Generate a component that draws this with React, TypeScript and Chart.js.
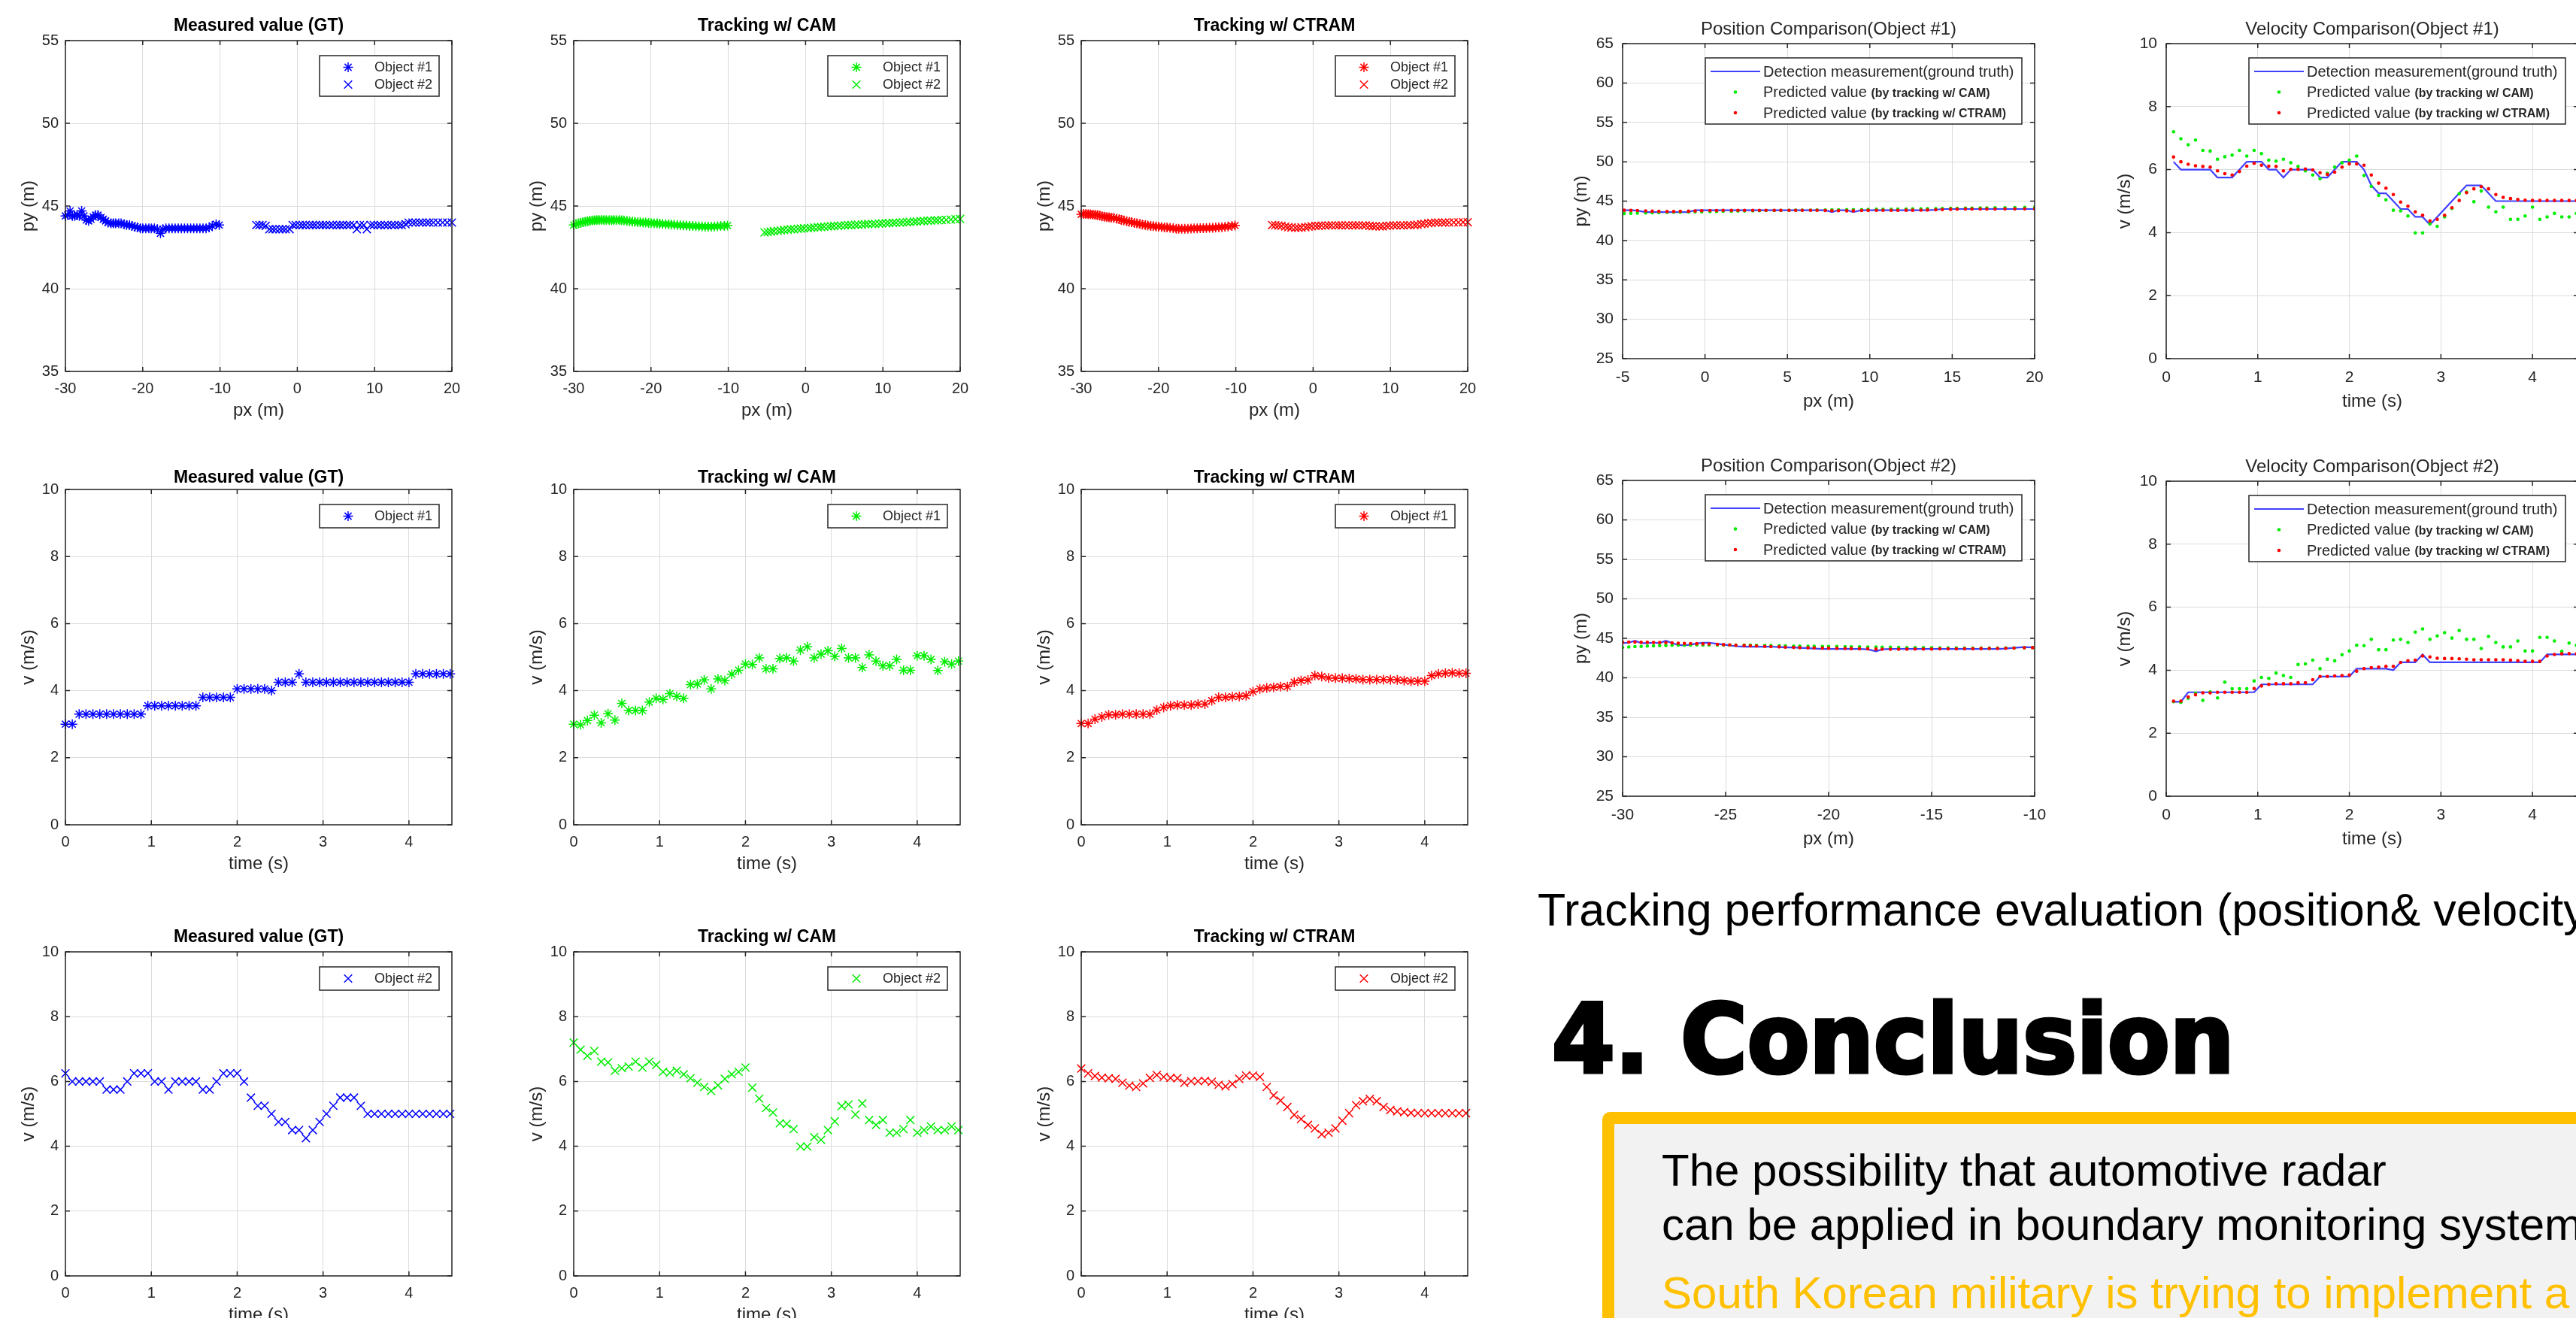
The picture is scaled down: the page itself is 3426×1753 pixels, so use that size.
import React, { useEffect, useRef } from 'react';
import { Chart, registerables } from 'chart.js';

Chart.register(...registerables);

const FONT = '"Liberation Sans", Arial, Helvetica, sans-serif';
const INK = '#262626';
const GRID = '#dcdcdc';
const C_GT = '#0000ff';
const C_CAM = '#00ee00';
const C_CTRAM = '#ff0000';
const C_GT_LINE = '#4040ff';

// ---------- sample times (s) ----------
const TIME = [0, 0.08, 0.16, 0.24, 0.32, 0.40, 0.48, 0.56, 0.64, 0.72, 0.80, 0.88, 0.96, 1.04, 1.12, 1.20, 1.28, 1.36, 1.44, 1.52,
  1.60, 1.68, 1.76, 1.84, 1.92, 2.00, 2.08, 2.16, 2.24, 2.32, 2.40, 2.48, 2.56, 2.64, 2.72, 2.80, 2.88, 2.96, 3.04, 3.12,
  3.20, 3.28, 3.36, 3.44, 3.52, 3.60, 3.68, 3.76, 3.84, 3.92, 4.00, 4.08, 4.16, 4.24, 4.32, 4.40, 4.48, 4.56];

// ---------- object #1 position ----------
const PX1 = [-30.0, -29.7, -29.4, -29.1, -28.8, -28.5, -28.2, -27.9, -27.6, -27.3,
  -27.0, -26.7, -26.4, -26.1, -25.8, -25.4, -25.1, -24.8, -24.5, -24.1,
  -23.8, -23.5, -23.1, -22.8, -22.4, -22.1, -21.7, -21.4, -21.0, -20.7,
  -20.3, -20.0, -19.6, -19.2, -18.9, -18.5, -18.1, -17.7, -17.4, -17.0,
  -16.6, -16.2, -15.8, -15.4, -15.0, -14.6, -14.2, -13.8, -13.4, -13.0,
  -12.6, -12.2, -11.8, -11.4, -11.0, -10.5, -10.1];
const PY1_GT = [44.4, 44.45, 44.7, 44.4, 44.4, 44.45, 44.4, 44.7, 44.4, 44.15,
  44.1, 44.2, 44.35, 44.45, 44.45, 44.3, 44.2, 44.1, 44.0, 43.95,
  43.95, 43.95, 43.95, 43.95, 43.9, 43.85, 43.85, 43.8, 43.75, 43.7,
  43.65, 43.65, 43.65, 43.65, 43.65, 43.65, 43.6, 43.35, 43.6, 43.65,
  43.65, 43.65, 43.65, 43.65, 43.65, 43.65, 43.65, 43.65, 43.65, 43.65,
  43.65, 43.65, 43.65, 43.7, 43.8, 43.9, 43.85];
const PY1_CAM = [43.85, 43.9, 43.95, 43.98, 44.02, 44.05, 44.08, 44.1, 44.12, 44.14,
  44.15, 44.15, 44.16, 44.15, 44.15, 44.15, 44.14, 44.15, 44.15, 44.15,
  44.14, 44.12, 44.1, 44.08, 44.06, 44.04, 44.02, 44.02, 44.0, 44.0,
  43.98, 43.97, 43.96, 43.95, 43.93, 43.92, 43.9, 43.9, 43.88, 43.87,
  43.85, 43.84, 43.83, 43.82, 43.8, 43.79, 43.78, 43.77, 43.76, 43.75,
  43.75, 43.75, 43.76, 43.77, 43.79, 43.8, 43.82];
const PY1_CTRAM = [44.5, 44.52, 44.52, 44.5, 44.5, 44.48, 44.47, 44.45, 44.42, 44.38,
  44.35, 44.33, 44.32, 44.3, 44.28, 44.24, 44.2, 44.16, 44.12, 44.08,
  44.05, 44.02, 43.98, 43.95, 43.92, 43.88, 43.85, 43.82, 43.8, 43.78,
  43.76, 43.75, 43.73, 43.71, 43.7, 43.68, 43.66, 43.63, 43.62, 43.62,
  43.62, 43.63, 43.64, 43.65, 43.65, 43.66, 43.66, 43.67, 43.68, 43.68,
  43.7, 43.71, 43.72, 43.74, 43.76, 43.8, 43.82];

// ---------- object #2 position ----------
const PX2 = [-5.3, -4.9, -4.5, -4.1, -3.6, -3.2, -2.8, -2.3, -1.9, -1.5,
  -1.0, -0.6, -0.2, 0.3, 0.7, 1.1, 1.6, 2.0, 2.4, 2.9,
  3.3, 3.7, 4.2, 4.6, 5.1, 5.5, 5.9, 6.4, 6.8, 7.3,
  7.7, 8.1, 8.6, 9.0, 9.5, 9.9, 10.4, 10.8, 11.3, 11.7,
  12.2, 12.6, 13.1, 13.5, 14.0, 14.4, 14.9, 15.3, 15.8, 16.2,
  16.7, 17.1, 17.6, 18.2, 18.8, 19.4, 20.0];
const PY2_GT = [43.85, 43.85, 43.85, 43.8, 43.6, 43.6, 43.6, 43.6, 43.6, 43.6,
  43.6, 43.85, 43.85, 43.85, 43.85, 43.85, 43.85, 43.85, 43.85, 43.85,
  43.85, 43.85, 43.85, 43.85, 43.85, 43.85, 43.85, 43.85, 43.85, 43.85,
  43.6, 43.85, 43.85, 43.6, 43.85, 43.85, 43.85, 43.85, 43.85, 43.85,
  43.85, 43.85, 43.85, 43.85, 43.9, 44.0, 44.0, 44.0, 44.0, 44.0,
  44.0, 44.0, 44.0, 44.0, 44.0, 44.0, 44.0];
const PY2_CAM = [43.4, 43.42, 43.45, 43.48, 43.5, 43.52, 43.55, 43.57, 43.6, 43.6,
  43.62, 43.63, 43.65, 43.66, 43.68, 43.7, 43.72, 43.73, 43.75, 43.76,
  43.78, 43.8, 43.8, 43.82, 43.83, 43.85, 43.85, 43.86, 43.87, 43.88,
  43.9, 43.9, 43.91, 43.92, 43.93, 43.95, 43.96, 43.97, 43.98, 43.99,
  44.0, 44.01, 44.02, 44.04, 44.05, 44.06, 44.08, 44.1, 44.11, 44.12,
  44.13, 44.14, 44.15, 44.16, 44.18, 44.2, 44.22];
const PY2_CTRAM = [43.85, 43.84, 43.82, 43.8, 43.76, 43.72, 43.7, 43.68, 43.68, 43.7,
  43.72, 43.75, 43.78, 43.8, 43.8, 43.82, 43.82, 43.83, 43.83, 43.83,
  43.83, 43.83, 43.83, 43.83, 43.83, 43.83, 43.83, 43.83, 43.83, 43.8,
  43.78, 43.78, 43.77, 43.77, 43.8, 43.82, 43.83, 43.83, 43.83, 43.83,
  43.84, 43.84, 43.85, 43.87, 43.9, 43.93, 43.96, 43.98, 44.0, 44.0,
  44.0, 44.0, 44.0, 44.01, 44.01, 44.02, 44.02];

// ---------- velocities (m/s) ----------
const V1_GT = [3.0, 3.0, 3.3, 3.3, 3.3, 3.3, 3.3, 3.3, 3.3, 3.3, 3.3, 3.3,
  3.55, 3.55, 3.55, 3.55, 3.55, 3.55, 3.55, 3.55,
  3.8, 3.8, 3.8, 3.8, 3.8,
  4.05, 4.05, 4.05, 4.05, 4.05, 4.0,
  4.25, 4.25, 4.25, 4.5,
  4.25, 4.25, 4.25, 4.25, 4.25, 4.25, 4.25, 4.25, 4.25, 4.25, 4.25, 4.25, 4.25, 4.25, 4.25, 4.25,
  4.5, 4.5, 4.5, 4.5, 4.5, 4.5];
const V1_CAM = [3.0, 2.98, 3.11, 3.27, 3.04, 3.31, 3.12, 3.62, 3.41, 3.41,
  3.41, 3.66, 3.77, 3.74, 3.91, 3.83, 3.77, 4.18, 4.2, 4.32,
  4.05, 4.35, 4.3, 4.49, 4.61, 4.79, 4.78, 4.98, 4.65, 4.65,
  4.96, 4.98, 4.88, 5.21, 5.31, 4.98, 5.09, 5.19, 5.02, 5.26,
  4.98, 4.98, 4.69, 5.07, 4.88, 4.74, 4.74, 4.93, 4.61, 4.61,
  5.04, 5.04, 4.93, 4.6, 4.86, 4.79, 4.88];
const V1_CTRAM = [3.02, 3.02, 3.15, 3.22, 3.28, 3.28, 3.3, 3.3, 3.3, 3.3,
  3.3, 3.42, 3.5, 3.55, 3.57, 3.57, 3.57, 3.6, 3.6, 3.7,
  3.8, 3.8, 3.82, 3.83, 3.85, 3.97, 4.05, 4.08, 4.1, 4.12,
  4.12, 4.25, 4.3, 4.32, 4.45, 4.42, 4.38, 4.37, 4.37, 4.36,
  4.35, 4.33, 4.33, 4.33, 4.33, 4.33, 4.32, 4.3, 4.28, 4.28,
  4.28, 4.45, 4.5, 4.52, 4.53, 4.52, 4.52];
const V2_GT = [6.25, 6.0, 6.0, 6.0, 6.0, 6.0, 5.75, 5.75, 5.75, 6.0,
  6.25, 6.25, 6.25, 6.0, 6.0, 5.75, 6.0, 6.0, 6.0, 6.0,
  5.75, 5.75, 6.0, 6.25, 6.25, 6.25, 6.0, 5.5, 5.25, 5.25,
  5.0, 4.75, 4.75, 4.5, 4.5, 4.25, 4.5, 4.75, 5.0, 5.25,
  5.5, 5.5, 5.5, 5.25, 5.0, 5.0, 5.0, 5.0, 5.0, 5.0,
  5.0, 5.0, 5.0, 5.0, 5.0, 5.0, 5.0];
const V2_CAM = [7.2, 6.98, 6.79, 6.94, 6.61, 6.59, 6.33, 6.41, 6.46, 6.61,
  6.43, 6.61, 6.51, 6.30, 6.27, 6.33, 6.22, 6.1, 5.96, 5.83,
  5.71, 5.88, 6.08, 6.22, 6.30, 6.43, 5.81, 5.47, 5.18, 5.04,
  4.71, 4.69, 4.53, 3.99, 3.99, 4.28, 4.2, 4.5, 4.77, 5.24,
  5.29, 4.98, 5.32, 4.81, 4.66, 4.81, 4.42, 4.42, 4.53, 4.81,
  4.42, 4.50, 4.61, 4.50, 4.50, 4.61, 4.50];
const V2_CTRAM = [6.40, 6.25, 6.17, 6.12, 6.10, 6.08, 5.96, 5.87, 5.83, 5.94,
  6.11, 6.20, 6.14, 6.11, 6.10, 5.96, 6.01, 6.01, 6.02, 5.99,
  5.90, 5.85, 5.92, 6.08, 6.18, 6.18, 6.14, 5.83, 5.57, 5.41,
  5.21, 4.97, 4.84, 4.66, 4.55, 4.37, 4.42, 4.55, 4.79, 5.02,
  5.27, 5.39, 5.46, 5.39, 5.21, 5.12, 5.08, 5.05, 5.03, 5.02,
  5.02, 5.02, 5.02, 5.02, 5.02, 5.02, 5.02];

// ---------- ticks ----------
const POS_X_TICKS = [-30, -20, -10, 0, 10, 20];
const POS_Y_TICKS = [35, 40, 45, 50, 55];
const VEL_X_TICKS = [0, 1, 2, 3, 4];
const VEL_Y_TICKS = [0, 2, 4, 6, 8, 10];
const CMP1_X_TICKS = [-5, 0, 5, 10, 15, 20];
const CMP2_X_TICKS = [-30, -25, -20, -15, -10];
const CMP_Y_TICKS = [25, 30, 35, 40, 45, 50, 55, 60, 65];

// ---------- helpers ----------
const pts = (xs: number[], ys: number[]) => ys.map((y, i) => ({ x: xs[i], y }));
const tpts = (ys: number[]) => ys.map((y, i) => ({ x: TIME[i], y }));
const tptsR = (ys: number[]) => ys.map((y, i) => ({ x: TIME[i + 1], y }));

const star = (label: string, data: any[], color: string) => ({
  label, data, pointStyle: 'star', pointRadius: 6.5, borderColor: color, backgroundColor: color, borderWidth: 1.5, clip: false, showLine: false,
});
const cross = (label: string, data: any[], color: string) => ({
  label, data, pointStyle: 'crossRot', pointRadius: 7.5, borderColor: color, backgroundColor: color, borderWidth: 1.5, clip: false, showLine: false,
});
const dots = (label: string, data: any[], color: string) => ({
  label, data, pointStyle: 'circle', pointRadius: 2.3, borderWidth: 0, borderColor: color, backgroundColor: color, showLine: false,
});
const line = (label: string, data: any[], color: string) => ({
  label, data, pointRadius: 0, borderColor: color, backgroundColor: color, borderWidth: 2.2, showLine: true, fill: false,
});

function drawMarker(ctx: CanvasRenderingContext2D, kind: string, x: number, y: number, color: string) {
  ctx.save();
  ctx.strokeStyle = color; ctx.fillStyle = color; ctx.lineWidth = 1.5;
  ctx.beginPath();
  if (kind === 'star') {
    const r = 6.5, d = r * Math.SQRT1_2;
    ctx.moveTo(x - r, y); ctx.lineTo(x + r, y);
    ctx.moveTo(x, y - r); ctx.lineTo(x, y + r);
    ctx.moveTo(x - d, y - d); ctx.lineTo(x + d, y + d);
    ctx.moveTo(x - d, y + d); ctx.lineTo(x + d, y - d);
    ctx.stroke();
  } else if (kind === 'x') {
    const d = 7.5 * Math.SQRT1_2;
    ctx.moveTo(x - d, y - d); ctx.lineTo(x + d, y + d);
    ctx.moveTo(x - d, y + d); ctx.lineTo(x + d, y - d);
    ctx.stroke();
  } else if (kind === 'dot') {
    ctx.arc(x, y, 2.3, 0, Math.PI * 2); ctx.fill();
  }
  ctx.restore();
}

function drawLegend(ctx: CanvasRenderingContext2D, a: any, lg: any) {
  if (!lg) return;
  ctx.save();
  if (lg.style === 'left') {
    const w = 159, h = 8 + 23 * lg.items.length;
    const bx = a.right - 17 - w, by = a.top + 20;
    ctx.fillStyle = '#fff'; ctx.fillRect(bx, by, w, h);
    ctx.strokeStyle = INK; ctx.lineWidth = 1.5; ctx.strokeRect(bx, by, w, h);
    lg.items.forEach((it: any, i: number) => {
      const cy = by + 4 + 23 * i + 11.5;
      drawMarker(ctx, it.kind, bx + 38, cy, it.color);
      ctx.fillStyle = INK; ctx.font = `18px ${FONT}`; ctx.textAlign = 'left'; ctx.textBaseline = 'middle';
      ctx.fillText(it.text, bx + 73, cy + 1);
    });
  } else {
    const w = 421, h = 88;
    const bx = a.right - 17 - w, by = a.top + 19;
    ctx.fillStyle = '#fff'; ctx.fillRect(bx, by, w, h);
    ctx.strokeStyle = INK; ctx.lineWidth = 1.5; ctx.strokeRect(bx, by, w, h);
    lg.items.forEach((it: any, i: number) => {
      const cy = by + 18 + 27.5 * i;
      if (it.kind === 'line') {
        ctx.strokeStyle = it.color; ctx.lineWidth = 2.2;
        ctx.beginPath(); ctx.moveTo(bx + 7, cy); ctx.lineTo(bx + 73, cy); ctx.stroke();
      } else {
        drawMarker(ctx, 'dot', bx + 40, cy, it.color);
      }
      ctx.fillStyle = INK; ctx.textAlign = 'left'; ctx.textBaseline = 'middle';
      ctx.font = `20px ${FONT}`;
      ctx.fillText(it.text, bx + 77, cy + 1);
      if (it.bold) {
        const tw = ctx.measureText(it.text + ' ').width;
        ctx.font = `bold 16px ${FONT}`;
        ctx.fillText(it.bold, bx + 77 + tw, cy + 2);
      }
    });
  }
  ctx.restore();
}

const framePlugin = (s: any) => ({
  id: 'matlabFrame',
  afterDraw(chart: any) {
    const ctx: CanvasRenderingContext2D = chart.ctx;
    const a = chart.chartArea;
    const xs = chart.scales.x, ys = chart.scales.y;
    ctx.save();
    ctx.strokeStyle = INK; ctx.lineWidth = 1.5;
    ctx.beginPath();
    xs.ticks.forEach((t: any) => {
      const p = xs.getPixelForValue(t.value);
      ctx.moveTo(p, a.bottom); ctx.lineTo(p, a.bottom - 6);
      ctx.moveTo(p, a.top); ctx.lineTo(p, a.top + 6);
    });
    ys.ticks.forEach((t: any) => {
      const p = ys.getPixelForValue(t.value);
      ctx.moveTo(a.left, p); ctx.lineTo(a.left + 6, p);
      ctx.moveTo(a.right, p); ctx.lineTo(a.right - 6, p);
    });
    ctx.stroke();
    ctx.strokeRect(a.left, a.top, a.right - a.left, a.bottom - a.top);

    ctx.textAlign = 'center'; ctx.textBaseline = 'middle';
    ctx.fillStyle = s.titleColor;
    ctx.font = `${s.titleBold ? 'bold ' : ''}${s.titleSize}px ${FONT}`;
    ctx.fillText(s.title, (a.left + a.right) / 2, a.top + s.titleDy);

    ctx.fillStyle = INK;
    ctx.font = `${s.labelSize}px ${FONT}`;
    ctx.fillText(s.xLabel, (a.left + a.right) / 2, a.bottom + s.xLabelDy);
    ctx.save();
    ctx.translate(a.left - s.yLabelDx, (a.top + a.bottom) / 2);
    ctx.rotate(-Math.PI / 2);
    ctx.fillText(s.yLabel, 0, 0);
    ctx.restore();

    drawLegend(ctx, a, s.legend);
    ctx.restore();
  },
});

function buildConfig(s: any): any {
  const axis = (min: number, max: number, ticks: number[], pad: number, fit: (sc: any) => void) => ({
    type: 'linear', min, max,
    afterBuildTicks: (sc: any) => { sc.ticks = ticks.map((v) => ({ value: v })); },
    afterFit: fit,
    ticks: { font: { family: FONT, size: s.tickSize }, color: INK, padding: pad, maxRotation: 0, minRotation: 0, autoSkip: false },
    grid: { color: GRID, drawTicks: false, lineWidth: 1 },
    border: { display: false },
  });
  return {
    type: 'scatter',
    data: { datasets: s.datasets },
    options: {
      animation: false, responsive: false, maintainAspectRatio: false, devicePixelRatio: 1, events: [],
      layout: { padding: { left: 0, top: s.pad.t, right: s.pad.r, bottom: 0 } },
      plugins: { legend: { display: false }, tooltip: { enabled: false }, title: { display: false } },
      scales: {
        x: { position: 'bottom', ...axis(s.xMin, s.xMax, s.xTicks, s.xTickPad, (sc: any) => { sc.height = s.pad.b; }) },
        y: { position: 'left', ...axis(s.yMin, s.yMax, s.yTicks, s.yTickPad, (sc: any) => { sc.width = s.pad.l; }) },
      },
    },
    plugins: [framePlugin(s)],
  };
}

// ---------- layout of the 13 panels ----------
const COLS = [87, 763, 1438];
const ROWS = [54, 651, 1266];
const ROW_H = [440, 446, 431];
const TITLE_DY = [-19, -15, -19];

const leftBase = (col: number, row: number) => ({
  plot: { x: COLS[col], y: ROWS[row], w: 514, h: ROW_H[row] },
  pad: { l: 85, t: 40, r: 30, b: 75 },
  tickSize: 20, labelSize: 24, titleSize: 23, titleBold: true, titleColor: '#000',
  titleDy: TITLE_DY[row], xLabelDy: 52, yLabelDx: 49, xTickPad: 11, yTickPad: 9,
});
const posAxes = { xMin: -30, xMax: 20, xTicks: POS_X_TICKS, yMin: 35, yMax: 55, yTicks: POS_Y_TICKS, xLabel: 'px (m)', yLabel: 'py (m)' };
const velAxes = { xMin: 0, xMax: 4.5, xTicks: VEL_X_TICKS, yMin: 0, yMax: 10, yTicks: VEL_Y_TICKS, xLabel: 'time (s)', yLabel: 'v (m/s)' };

const TITLES = ['Measured value (GT)', 'Tracking w/ CAM', 'Tracking w/ CTRAM'];
const COLORS = [C_GT, C_CAM, C_CTRAM];
const PY1S = [PY1_GT, PY1_CAM, PY1_CTRAM];
const PY2S = [PY2_GT, PY2_CAM, PY2_CTRAM];
const V1S = [V1_GT, V1_CAM, V1_CTRAM];
const V2S = [V2_GT, V2_CAM, V2_CTRAM];

const LEFT_SPECS: any[] = [];
[0, 1, 2].forEach((c) => {
  const col = COLORS[c];
  LEFT_SPECS.push({
    ...leftBase(c, 0), ...posAxes, title: TITLES[c],
    datasets: [star('Object #1', pts(PX1, PY1S[c]), col), cross('Object #2', pts(PX2, PY2S[c]), col)],
    legend: { style: 'left', items: [{ kind: 'star', color: col, text: 'Object #1' }, { kind: 'x', color: col, text: 'Object #2' }] },
  });
  LEFT_SPECS.push({
    ...leftBase(c, 1), ...velAxes, title: TITLES[c],
    datasets: [star('Object #1', tpts(V1S[c]), col)],
    legend: { style: 'left', items: [{ kind: 'star', color: col, text: 'Object #1' }] },
  });
  LEFT_SPECS.push({
    ...leftBase(c, 2), ...velAxes, title: TITLES[c],
    datasets: [cross('Object #2', tpts(V2S[c]), col)],
    legend: { style: 'left', items: [{ kind: 'x', color: col, text: 'Object #2' }] },
  });
});

const rightBase = (x: number, y: number, h: number) => ({
  plot: { x, y, w: 548, h },
  pad: { l: 90, t: 40, r: 30, b: 80 },
  tickSize: 21, labelSize: 24, titleSize: 24, titleBold: false, titleColor: INK,
  titleDy: -19, xLabelDy: 57, yLabelDx: 55, xTickPad: 13, yTickPad: 12,
});
const CMP_LEGEND = {
  style: 'right',
  items: [
    { kind: 'line', color: C_GT_LINE, text: 'Detection measurement(ground truth)' },
    { kind: 'dot', color: C_CAM, text: 'Predicted value', bold: '(by tracking w/ CAM)' },
    { kind: 'dot', color: C_CTRAM, text: 'Predicted value', bold: '(by tracking w/ CTRAM)' },
  ],
};

const RIGHT_SPECS: any[] = [
  {
    ...rightBase(2158, 58, 419), title: 'Position Comparison(Object #1)',
    xMin: -5, xMax: 20, xTicks: CMP1_X_TICKS, yMin: 25, yMax: 65, yTicks: CMP_Y_TICKS, xLabel: 'px (m)', yLabel: 'py (m)',
    datasets: [dots('CTRAM', pts(PX2, PY2_CTRAM), C_CTRAM), dots('CAM', pts(PX2, PY2_CAM), C_CAM), line('GT', pts(PX2, PY2_GT), C_GT_LINE)],
    legend: CMP_LEGEND,
  },
  {
    ...rightBase(2881, 58, 419), title: 'Velocity Comparison(Object #1)',
    xMin: 0, xMax: 4.5, xTicks: VEL_X_TICKS, yMin: 0, yMax: 10, yTicks: VEL_Y_TICKS, xLabel: 'time (s)', yLabel: 'v (m/s)',
    datasets: [dots('CTRAM', tptsR(V2_CTRAM), C_CTRAM), dots('CAM', tptsR(V2_CAM), C_CAM), line('GT', tptsR(V2_GT), C_GT_LINE)],
    legend: CMP_LEGEND,
  },
  {
    ...rightBase(2158, 639, 420), title: 'Position Comparison(Object #2)',
    xMin: -30, xMax: -10, xTicks: CMP2_X_TICKS, yMin: 25, yMax: 65, yTicks: CMP_Y_TICKS, xLabel: 'px (m)', yLabel: 'py (m)',
    datasets: [dots('CTRAM', pts(PX1, PY1_CTRAM), C_CTRAM), dots('CAM', pts(PX1, PY1_CAM), C_CAM), line('GT', pts(PX1, PY1_GT), C_GT_LINE)],
    legend: CMP_LEGEND,
  },
  {
    ...rightBase(2881, 640, 419), title: 'Velocity Comparison(Object #2)',
    xMin: 0, xMax: 4.5, xTicks: VEL_X_TICKS, yMin: 0, yMax: 10, yTicks: VEL_Y_TICKS, xLabel: 'time (s)', yLabel: 'v (m/s)',
    datasets: [dots('CTRAM', tptsR(V1_CTRAM), C_CTRAM), dots('CAM', tptsR(V1_CAM), C_CAM), line('GT', tptsR(V1_GT), C_GT_LINE)],
    legend: CMP_LEGEND,
  },
];

const ALL_SPECS = [...LEFT_SPECS, ...RIGHT_SPECS];

function Panel({ spec }: { spec: any }) {
  const ref = useRef<HTMLCanvasElement>(null);
  const W = spec.pad.l + spec.plot.w + spec.pad.r;
  const H = spec.pad.t + spec.plot.h + spec.pad.b;
  useEffect(() => {
    if (!ref.current) return;
    const chart = new Chart(ref.current, buildConfig(spec));
    return () => chart.destroy();
  }, []);
  return (
    <canvas
      ref={ref}
      width={W}
      height={H}
      style={{ position: 'absolute', left: spec.plot.x - spec.pad.l, top: spec.plot.y - spec.pad.t, width: W, height: H }}
    />
  );
}

export default function App() {
  useEffect(() => {
    document.body.style.margin = '0';
    document.body.style.overflow = 'hidden';
  }, []);
  const txt: React.CSSProperties = { position: 'absolute', whiteSpace: 'nowrap', fontFamily: FONT, lineHeight: 1 };
  return (
    <div style={{ position: 'absolute', left: 0, top: 0, width: 3426, height: 1753, overflow: 'hidden', background: '#fff' }}>
      {ALL_SPECS.map((s, i) => <Panel key={i} spec={s} />)}
      <div style={{ ...txt, left: 2045, top: 1180, fontSize: 61, color: '#000' }}>
        {'Tracking performance evaluation (position& velocity)'}
      </div>
      <div style={{ ...txt, left: 2064, top: 1320, fontSize: 126, fontFamily: '"DejaVu Sans", sans-serif', fontWeight: 'bold', color: '#000', WebkitTextStroke: '5px #000', transform: 'scaleX(0.955)', transformOrigin: 'left top' } as React.CSSProperties}>
        4. Conclusion
      </div>
      <div style={{ position: 'absolute', left: 2131, top: 1479, width: 1500, height: 500, border: '16px solid #FFC000', borderRadius: 10, background: '#F2F2F2', boxSizing: 'border-box' }} />
      <div style={{ ...txt, left: 2210, top: 1527, fontSize: 60, color: '#000' }}>The possibility that automotive radar</div>
      <div style={{ ...txt, left: 2210, top: 1599, fontSize: 60, color: '#000' }}>can be applied in boundary monitoring systems</div>
      <div style={{ ...txt, left: 2210, top: 1690, fontSize: 60, color: '#FFC000' }}>South Korean military is trying to implement a</div>
    </div>
  );
}
